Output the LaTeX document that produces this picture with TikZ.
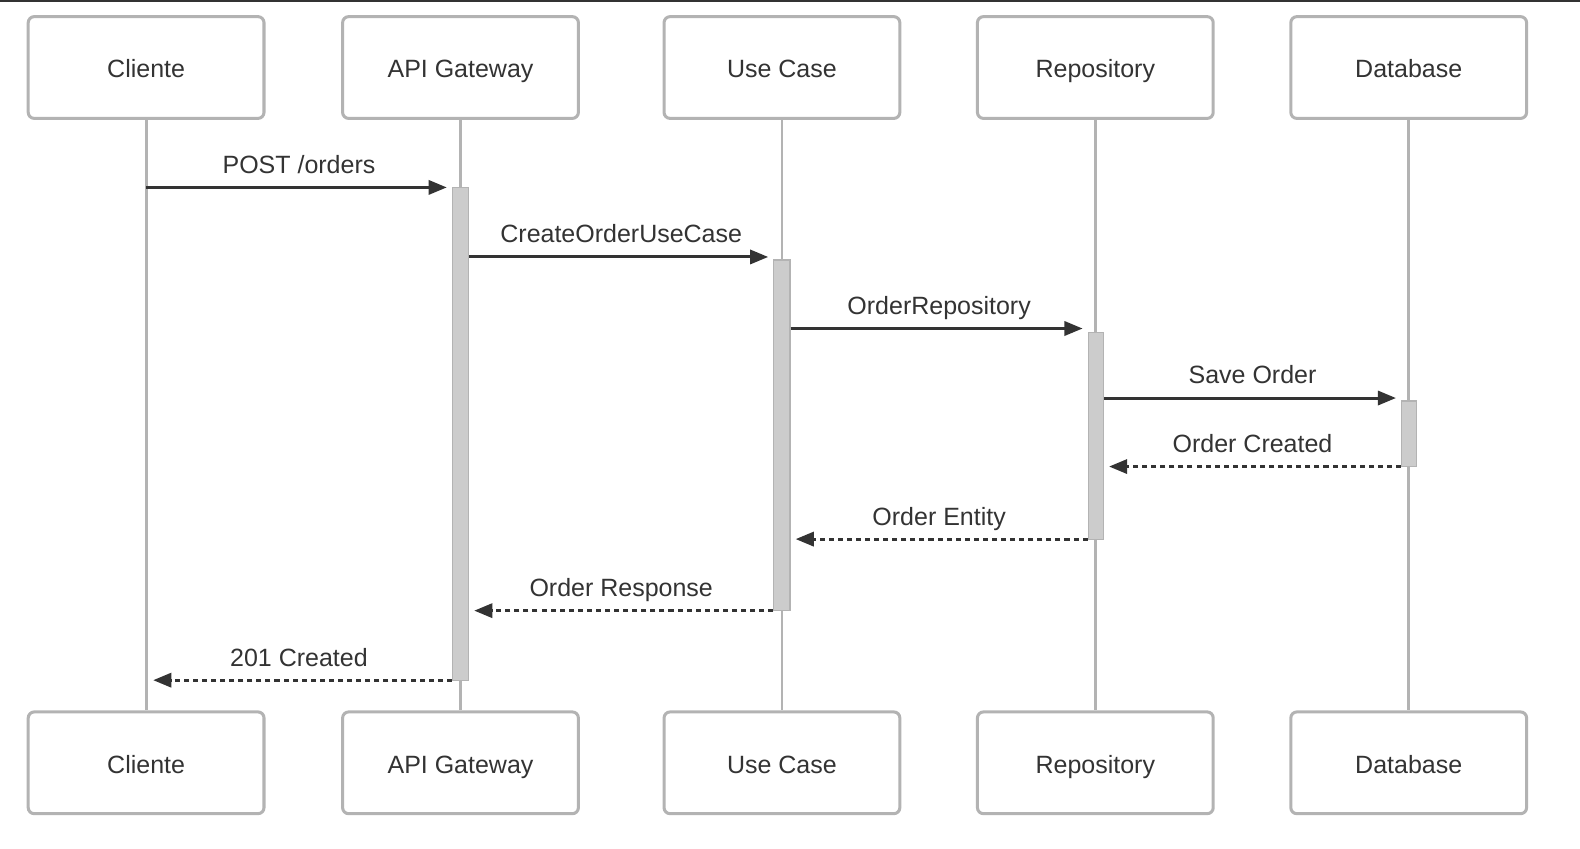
\documentclass[tikz,border=0pt]{standalone}
\usepackage{fontspec}
\setmainfont{Liberation Sans}
\usetikzlibrary{arrows.meta, fit}
\definecolor{lgrey}{HTML}{B3B3B3}
\definecolor{bargrey}{HTML}{CCCCCC}
\definecolor{dgrey}{HTML}{333333}

\begin{document}
\begin{tikzpicture}[
  x=0.5pt, y=-0.5pt,
  font=\fontsize{12.4}{15}\selectfont,
  actor/.style={draw=lgrey, line width=1.5pt, fill=white, rounded corners=3pt,
                minimum width=117pt, minimum height=50.5pt, text=dgrey,
                text height=11pt, text depth=0.6pt},
  life/.style={draw=lgrey, line width=1.4pt},
  act/.style={draw=lgrey, fill=bargrey, line width=0.6pt, inner sep=0pt},
  msg/.style={draw=dgrey, line width=1.5pt, -{Triangle[length=9pt, width=7pt]}, shorten >=2.5pt},
  reply/.style={msg, dash pattern=on 2.5pt off 2pt},
  lbl/.style={midway, anchor=base, yshift=7pt, text=dgrey}
]
\useasboundingbox (0,0) rectangle (1568,842);
\draw[dgrey, line width=1pt] (0,1) -- (1568,1);

% participants, top and bottom
\foreach \n/\x/\t in {cli/145/Cliente, gw/457/API Gateway, uc/776/Use Case,
                      rep/1087/Repository, db/1398/Database} {
  \node[actor] (\n-top) at (\x,67) {\t};
  \node[actor] (\n-bot) at (\x,757) {\t};
  \draw[life] (\n-top.south) -- (\n-bot.north);
}

% activation bars
\node[act, fit={(449,186) (465,675)}] (gw-act) {};
\node[act, fit={(768,258) (784,606)}] (uc-act) {};
\node[act, fit={(1080,330) (1095,535)}] (rep-act) {};
\node[act, fit={(1391,398) (1406,463)}] (db-act) {};

% message rows
\foreach \m/\y in {m1/186, m2/255, m3/326, m4/395, m5/463, m6/535, m7/606, m8/675}
  \coordinate (\m) at (0,\y);

\draw[msg] (cli-top |- m1) -- (gw-act.west |- m1) node[lbl] {POST /orders};
\draw[msg] (gw-act.east |- m2) -- (uc-act.west |- m2) node[lbl] {CreateOrderUseCase};
\draw[msg] (uc-act.east |- m3) -- (rep-act.west |- m3) node[lbl] {OrderRepository};
\draw[msg] (rep-act.east |- m4) -- (db-act.west |- m4) node[lbl] {Save Order};
\draw[reply] (db-act.west |- m5) -- (rep-act.east |- m5) node[lbl] {Order Created};
\draw[reply] (rep-act.west |- m6) -- (uc-act.east |- m6) node[lbl] {Order Entity};
\draw[reply] (uc-act.west |- m7) -- (gw-act.east |- m7) node[lbl] {Order Response};
\draw[reply, shorten >=3.5pt] (gw-act.west |- m8) -- (cli-top |- m8) node[lbl] {201 Created};
\end{tikzpicture}
\end{document}
